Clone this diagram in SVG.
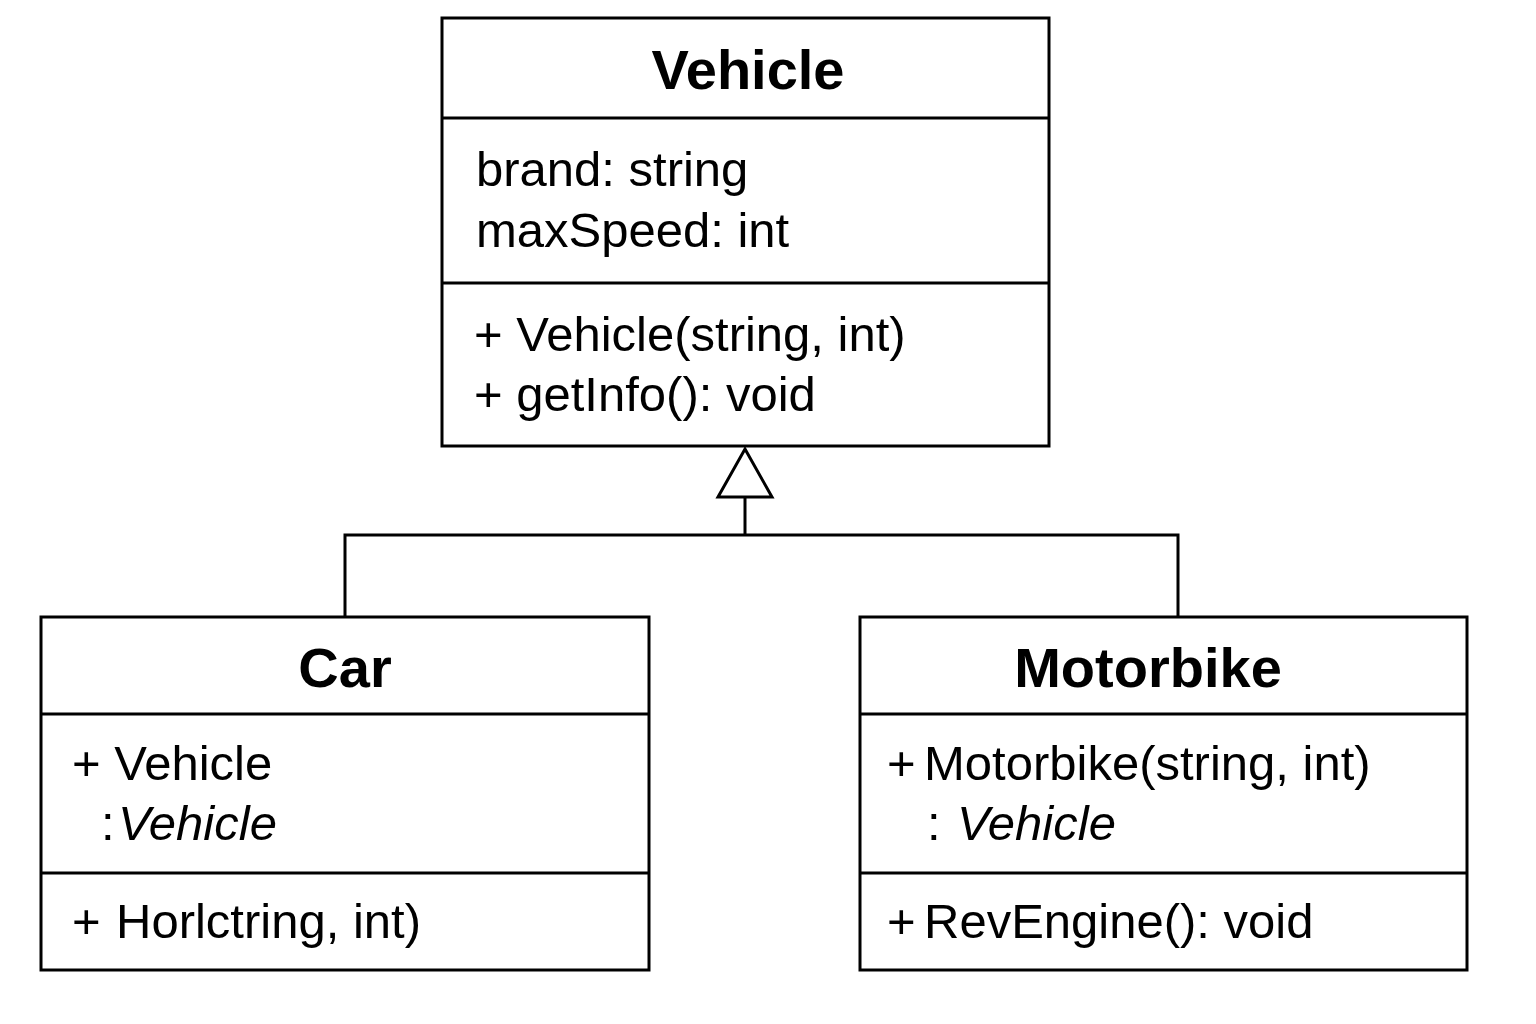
<svg xmlns="http://www.w3.org/2000/svg" width="1536" height="1024" viewBox="0 0 1536 1024">
<style>
.box{fill:#fff;stroke:#000;stroke-width:3}
.div{stroke:#000;stroke-width:3}
.title{font-family:"Liberation Sans",Arial,sans-serif;font-weight:bold;font-size:56px;text-anchor:middle;fill:#000}
.txt{font-family:"Liberation Sans",Arial,sans-serif;font-size:49px;fill:#000}
.it{font-style:italic}
.conn{fill:none;stroke:#000;stroke-width:3}
</style>
<rect width="1536" height="1024" fill="#fff"/>
<g id="connectors">
<polyline class="conn" points="345,617 345,535 1178,535 1178,617"/>
<line class="conn" x1="745" y1="535" x2="745" y2="497"/>
<polygon points="745,449 772,497 718,497" fill="#fff" stroke="#000" stroke-width="3"/>
</g>
<g id="vehicle">
<rect class="box" x="442" y="18" width="607" height="428"/>
<line class="div" x1="442" y1="118" x2="1049" y2="118"/>
<line class="div" x1="442" y1="283" x2="1049" y2="283"/>
<text class="title" x="748" y="89">Vehicle</text>
<text class="txt" x="476" y="186">brand: string</text>
<text class="txt" x="476" y="247">maxSpeed: int</text>
<text class="txt" x="474" y="351">+ Vehicle(string, int)</text>
<text class="txt" x="474" y="411">+ getInfo(): void</text>
</g>
<g id="car">
<rect class="box" x="41" y="617" width="608" height="353"/>
<line class="div" x1="41" y1="714" x2="649" y2="714"/>
<line class="div" x1="41" y1="873" x2="649" y2="873"/>
<text class="title" x="345" y="687">Car</text>
<text class="txt" x="72" y="780">+ Vehicle</text>
<text class="txt" x="101" y="840">:<tspan class="it" x="118">Vehicle</tspan></text>
<text class="txt" x="72" y="938">+ <tspan x="116">Horlctring, int)</tspan></text>
</g>
<g id="motorbike">
<rect class="box" x="860" y="617" width="607" height="353"/>
<line class="div" x1="860" y1="714" x2="1467" y2="714"/>
<line class="div" x1="860" y1="873" x2="1467" y2="873"/>
<text class="title" x="1148" y="687">Motorbike</text>
<text class="txt" x="887" y="780">+<tspan x="924">Motorbike(string, int)</tspan></text>
<text class="txt" x="927" y="840">: <tspan class="it" x="957">Vehicle</tspan></text>
<text class="txt" x="887" y="938">+<tspan x="924">RevEngine(): void</tspan></text>
</g>
</svg>
